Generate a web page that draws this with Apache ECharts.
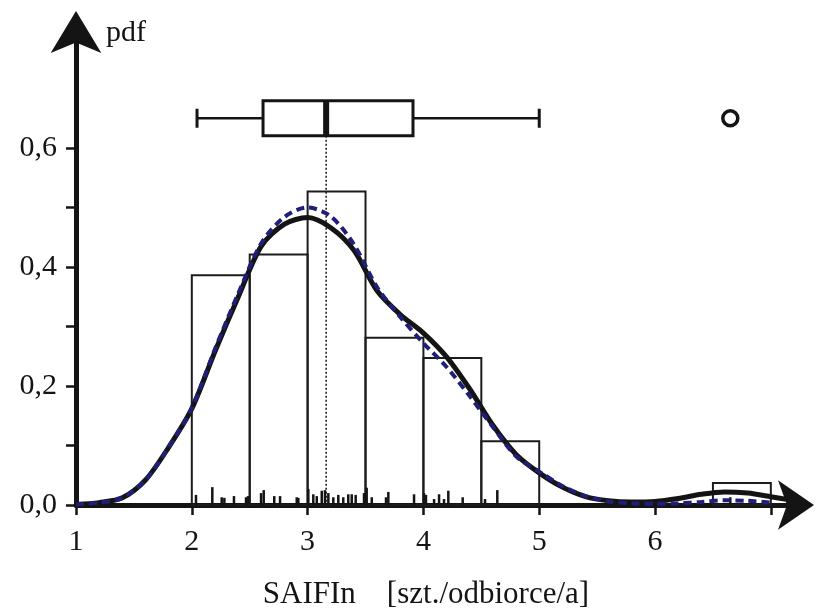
<!DOCTYPE html>
<html><head><meta charset="utf-8">
<script src="https://cdn.jsdelivr.net/npm/echarts@6/dist/echarts.min.js"></script>
<style>html,body{margin:0;padding:0;background:#fff}#c{width:827px;height:610px}</style>
</head><body><div id="c"></div>
<script>
// ---- data ----
const binStart   = [2.0, 2.5, 3.0, 3.5, 4.0, 4.5, 6.5];
const binEnd     = [2.5, 3.0, 3.5, 4.0, 4.5, 5.0, 7.0];
const binDensity = [0.386, 0.421, 0.527, 0.281, 0.247, 0.107, 0.037];

const kdeX      = [1.0, 1.2, 1.4, 1.6, 1.8, 2.0, 2.2, 2.4, 2.6, 2.8, 3.0, 3.2, 3.4, 3.6, 3.8, 4.0, 4.2, 4.4, 4.6, 4.8, 5.0, 5.2, 5.4, 5.6, 5.8, 6.0, 6.2, 6.4, 6.6, 6.8, 7.0, 7.15];
const kdeSolid  = [0.001, 0.004, 0.012, 0.042, 0.097, 0.162, 0.258, 0.349, 0.435, 0.472, 0.483, 0.466, 0.428, 0.360, 0.320, 0.289, 0.249, 0.195, 0.134, 0.085, 0.054, 0.030, 0.014, 0.007, 0.005, 0.006, 0.011, 0.018, 0.022, 0.020, 0.014, 0.009];
const kdeDashed = [0.001, 0.004, 0.012, 0.042, 0.097, 0.163, 0.262, 0.355, 0.440, 0.484, 0.500, 0.485, 0.438, 0.366, 0.316, 0.272, 0.232, 0.183, 0.131, 0.082, 0.056, 0.032, 0.015, 0.006, 0.003, 0.002, 0.003, 0.005, 0.008, 0.007, 0.004];

// whisker low, Q1, median, Q3, whisker high
const boxStats = [2.045, 2.615, 3.16, 3.91, 5.0];
const outliers = [6.65];

const rugX = [2.036, 2.177, 2.258, 2.281, 2.364, 2.468, 2.485, 2.598, 2.621, 2.712, 2.762, 2.906, 2.920, 3.006, 3.049, 3.079, 3.122, 3.150, 3.179, 3.222, 3.265, 3.308, 3.351, 3.381, 3.415, 3.487, 3.510, 3.554, 3.677, 3.697, 3.919, 4.005, 4.022, 4.092, 4.135, 4.178, 4.215, 4.339, 4.532, 4.638, 6.65];
const rugH = [0.017, 0.030, 0.013, 0.012, 0.015, 0.013, 0.015, 0.020, 0.025, 0.015, 0.015, 0.013, 0.012, 0.027, 0.018, 0.015, 0.024, 0.025, 0.020, 0.013, 0.017, 0.013, 0.018, 0.018, 0.017, 0.020, 0.029, 0.013, 0.013, 0.022, 0.018, 0.020, 0.017, 0.010, 0.018, 0.010, 0.024, 0.013, 0.010, 0.025, 0.013];

const xTicks  = [1, 2, 3, 4, 5, 6, 7];
const xLabels = [1, 2, 3, 4, 5, 6];
const yTicks  = [0, 0.1, 0.2, 0.3, 0.4, 0.5, 0.6];
const yLabels = [0, 0.2, 0.4, 0.6];

const xTitle = 'SAIFIn    [szt./odbiorce/a]';
const yTitle = 'pdf';

// ---- chart ----
const BOX_Y = 0.65;
const FONT = '"Liberation Serif","Times New Roman",serif';
const INK = '#141414';
const chart = echarts.init(document.getElementById('c'), null, {renderer: 'canvas'});

const solidData = kdeX.map((x, i) => [x, kdeSolid[i]]);
const dashedData = kdeDashed.map((y, i) => [kdeX[i], y]);
const histData = binStart.map((s, i) => [s, binEnd[i], binDensity[i]]);
const rugData = rugX.map((x, i) => [x, rugH[i]]);

chart.setOption({
  animation: false,
  backgroundColor: '#fff',
  grid: {left: 76, right: 33, top: 29, bottom: 105, containLabel: false, outerBoundsMode: 'none'},
  xAxis: {
    type: 'value', min: 1, max: 7.2,
    name: xTitle, nameLocation: 'middle', nameGap: 74,
    nameTextStyle: {fontFamily: FONT, fontSize: 31, color: INK, padding: [0, 18, 0, 0]},
    axisLine: {show: true, onZero: false, symbol: ['none', 'arrow'], symbolSize: [37, 36], symbolOffset: [0, 20],
      lineStyle: {color: INK, width: 5}},
    axisTick: {show: true, customValues: xTicks, length: 10, inside: false, lineStyle: {color: INK, width: 2.5}},
    axisLabel: {customValues: xLabels, margin: 22, fontFamily: FONT, fontSize: 30, color: INK},
    splitLine: {show: false}
  },
  yAxis: {
    type: 'value', min: 0, max: 0.8,
    name: yTitle, nameLocation: 'end', nameGap: -4,
    nameTextStyle: {fontFamily: FONT, fontSize: 30, color: INK, align: 'left', verticalAlign: 'middle', padding: [0, 0, 0, 30]},
    axisLine: {show: true, onZero: false, symbol: ['none', 'arrow'], symbolSize: [38, 42], symbolOffset: [0, 18],
      lineStyle: {color: INK, width: 5}},
    axisTick: {show: true, customValues: yTicks, length: 10, lineStyle: {color: INK, width: 2.5}},
    axisLabel: {customValues: yLabels, margin: 19, fontFamily: FONT, fontSize: 30, color: INK,
      formatter: v => v.toFixed(1).replace('.', ',')},
    splitLine: {show: false}
  },
  series: [
    {
      type: 'custom', name: 'histogram', z: 2,
      renderItem: (params, api) => {
        const a = api.coord([api.value(0), api.value(2)]);
        const b = api.coord([api.value(1), 0]);
        return {type: 'rect', shape: {x: a[0], y: a[1], width: b[0] - a[0], height: b[1] - a[1]},
          style: {fill: 'none', stroke: '#1c1c1c', lineWidth: 2}};
      },
      data: histData
    },
    {
      type: 'custom', name: 'rug', z: 3,
      renderItem: (params, api) => {
        const p0 = api.coord([api.value(0), 0]);
        const p1 = api.coord([api.value(0), api.value(1)]);
        return {type: 'line', shape: {x1: p0[0], y1: p0[1], x2: p1[0], y2: p1[1]},
          style: {stroke: INK, lineWidth: 2.5}};
      },
      data: rugData
    },
    {
      type: 'custom', name: 'boxplot', z: 4,
      renderItem: (params, api) => {
        const lo = api.coord([api.value(0), BOX_Y]);
        const q1 = api.coord([api.value(1), BOX_Y]);
        const md = api.coord([api.value(2), BOX_Y]);
        const q3 = api.coord([api.value(3), BOX_Y]);
        const hi = api.coord([api.value(4), BOX_Y]);
        const base = api.coord([api.value(2), 0]);
        const cy = md[1], hh = 17.5, ch = 9.5;
        return {type: 'group', children: [
          {type: 'line', shape: {x1: md[0], y1: cy + hh, x2: base[0], y2: base[1]},
            style: {stroke: INK, lineWidth: 1.5, lineDash: [2, 2]}},
          {type: 'line', shape: {x1: lo[0], y1: cy, x2: q1[0], y2: cy}, style: {stroke: INK, lineWidth: 2.5}},
          {type: 'line', shape: {x1: q3[0], y1: cy, x2: hi[0], y2: cy}, style: {stroke: INK, lineWidth: 2.5}},
          {type: 'line', shape: {x1: lo[0], y1: cy - ch, x2: lo[0], y2: cy + ch}, style: {stroke: INK, lineWidth: 3}},
          {type: 'line', shape: {x1: hi[0], y1: cy - ch, x2: hi[0], y2: cy + ch}, style: {stroke: INK, lineWidth: 3}},
          {type: 'rect', shape: {x: q1[0], y: cy - hh, width: q3[0] - q1[0], height: 2 * hh},
            style: {fill: '#fff', stroke: INK, lineWidth: 3}},
          {type: 'rect', shape: {x: md[0] - 3, y: cy - hh, width: 6, height: 2 * hh},
            style: {fill: INK, stroke: null}}
        ]};
      },
      data: [boxStats]
    },
    {
      type: 'line', name: 'kde', z: 5, data: solidData, smooth: 0.3, showSymbol: false,
      lineStyle: {color: INK, width: 5}
    },
    {
      type: 'line', name: 'fit', z: 6, data: dashedData, smooth: 0.3, showSymbol: false,
      lineStyle: {color: '#1f1f7a', width: 4, type: [8, 5], cap: 'butt'}
    },
    {
      type: 'scatter', name: 'outlier', z: 7, data: outliers.map(x => [x, BOX_Y]),
      symbol: 'circle', symbolSize: 15,
      itemStyle: {color: '#fff', borderColor: INK, borderWidth: 3.5, opacity: 1}
    }
  ]
});
</script>
</body></html>
